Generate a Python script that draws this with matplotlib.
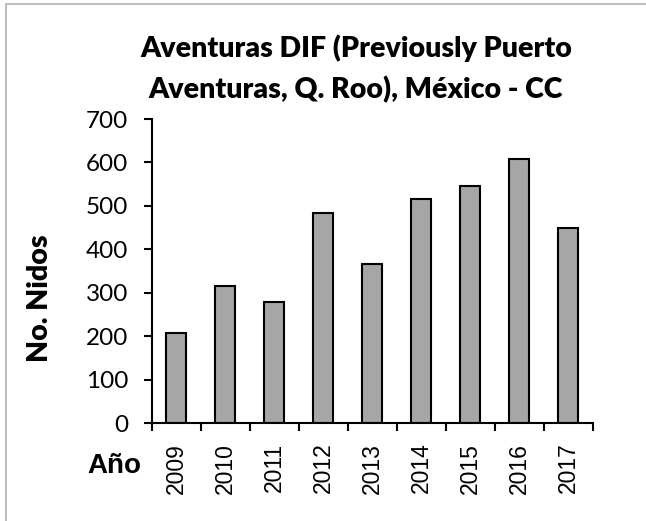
import matplotlib

matplotlib.use("Agg")
import matplotlib.pyplot as plt
import numpy as np
from matplotlib.patches import Rectangle
from matplotlib.ticker import FixedLocator

years = ["2009", "2010", "2011", "2012", "2013", "2014", "2015", "2016", "2017"]
nests = [208, 316, 278, 484, 366, 515, 545, 607, 449]
y_ticks = [0, 100, 200, 300, 400, 500, 600, 700]

title_lines = ["Aventuras DIF (Previously Puerto", "Aventuras, Q. Roo), México - CC"]
y_label = "No. Nidos"
x_label = "Año"

W, H = 646, 521
fig = plt.figure(figsize=(W / 100, H / 100), dpi=100)
ax = fig.add_axes([151.7 / W, 1 - 423.3 / H, 441 / W, 304.3 / H])

x = np.arange(len(years))
ax.bar(x, nests, 0.4, color="#a6a6a6", edgecolor="black", linewidth=1.5, zorder=2)

ax.set_xlim(-0.5, len(years) - 0.5)
ax.set_ylim(0, 700)
ax.set_yticks(y_ticks)
ax.set_yticklabels([str(v) for v in y_ticks], family="Lato", fontsize=17.5)
ax.set_xticks(x)
ax.set_xticklabels(years, rotation=90, family="Liberation Sans", fontsize=16.5)
ax.xaxis.set_minor_locator(FixedLocator(np.arange(-0.5, len(years), 1.0)))

ax.tick_params(axis="x", which="major", length=0, pad=14)
ax.tick_params(axis="x", which="minor", length=6, width=1.5, direction="out")
ax.tick_params(axis="y", which="major", length=6, width=1.5, direction="out", pad=11)

for side in ("top", "right"):
    ax.spines[side].set_visible(False)
for side in ("left", "bottom"):
    ax.spines[side].set_linewidth(1.5)

# title, written as two lines like the original chart
fig.text(356 / W, 1 - 57 / H, title_lines[0], ha="center", va="baseline",
         family="Lato", fontweight="heavy", fontsize=20.5)
fig.text(356 / W, 1 - 98 / H, title_lines[1], ha="center", va="baseline",
         family="Lato", fontweight="heavy", fontsize=20.5)

fig.text(40 / W, 1 - 298 / H, y_label, rotation=90, ha="center", va="center",
         family="Lato", fontweight="heavy", fontsize=20.5)
fig.text(114 / W, 1 - 473 / H, x_label, ha="center", va="baseline",
         family="Liberation Sans", fontweight="bold", fontsize=20)

# light grey chart-area border (only left and top edges visible)
fig.patches.append(Rectangle((5.5 / W, -0.1), 2, 1.1 - 4.5 / H, transform=fig.transFigure,
                             fill=False, edgecolor="#bfbfbf", linewidth=1.5))

fig.savefig("out.png", dpi=100)
